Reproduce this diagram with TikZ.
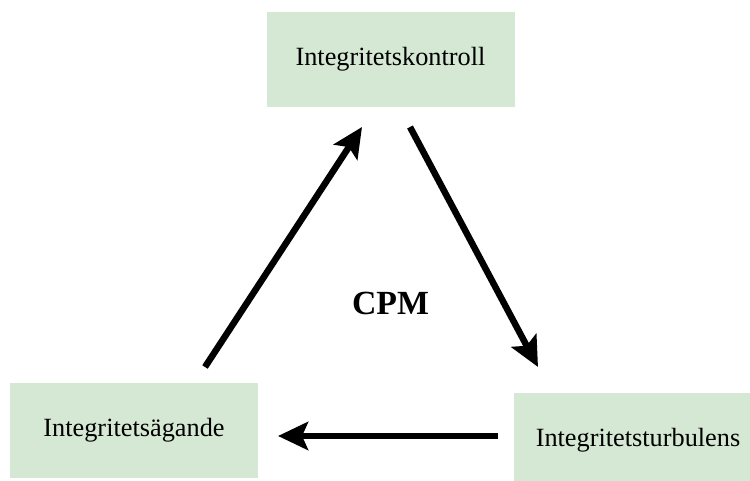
\documentclass[tikz,border=0pt]{standalone}
\usepackage{fontspec}
\setmainfont{Liberation Serif}
\usetikzlibrary{arrows.meta}
\definecolor{boxgreen}{HTML}{D5E8D4}
\begin{document}
\begin{tikzpicture}[x=1bp,y=1bp,
  box/.style={fill=boxgreen,draw=none,minimum width=248bp,minimum height=95bp,inner sep=0pt,font=\fontsize{26.3bp}{30bp}\selectfont},
  bigarrow/.style={line width=6.5bp,-{Stealth[length=30bp,width=28bp,inset=6bp]}}]
\useasboundingbox (0,0) rectangle (750,481);
\clip (0,0) rectangle (750,481);
\fill[white] (0,0) rectangle (750,481);
\node[box] (top) at (390.5,421.5) {Integritetskontroll};
\node[box] (left) at (134,50.5) {Integritetsägande};
\node[box] (right) at (638,40.5) {Integritetsturbulens};
\node[font=\bfseries\fontsize{33.8bp}{38bp}\selectfont] (cpm) at (390.5,178) {CPM};
\coordinate (a1s) at (205,114);
\coordinate (a1e) at (362,354);
\coordinate (a2s) at (410,354);
\coordinate (a2e) at (538,114);
\coordinate (a3s) at (498,45);
\coordinate (a3e) at (278,45);
\draw[bigarrow] (a1s) -- (a1e);
\draw[bigarrow] (a2s) -- (a2e);
\draw[bigarrow] (a3s) -- (a3e);
\end{tikzpicture}
\end{document}
